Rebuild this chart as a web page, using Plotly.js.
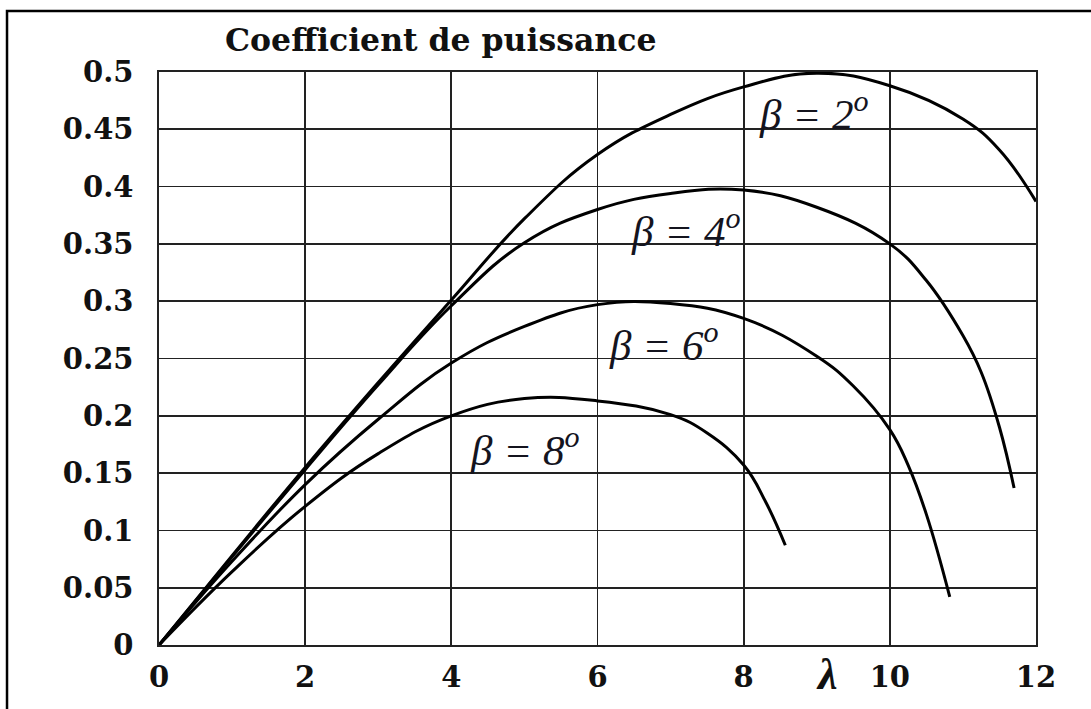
<!DOCTYPE html>
<html>
<head>
<meta charset="utf-8">
<script src="https://cdn.plot.ly/plotly-3.0.1.min.js"></script>
<style>
  html, body { margin: 0; padding: 0; background: #fff; }
  #chart { width: 1091px; height: 709px; }
</style>
</head>
<body>
<div id="chart"></div>
<script>
// Power coefficient Cp versus tip-speed ratio λ, one curve per pitch angle β
const lambdaB2 = [0, 1, 2, 3, 4, 5, 6, 7, 8, 9, 10, 11, 11.5, 12];
const cpB2     = [0, 0.078, 0.155, 0.229, 0.301, 0.372, 0.428, 0.463, 0.487, 0.499, 0.488, 0.459, 0.432, 0.387];

const lambdaB4 = [0, 1, 2, 3, 4, 5, 6, 7, 8, 9, 10, 10.5, 11, 11.25, 11.5, 11.7];
const cpB4     = [0, 0.077, 0.153, 0.227, 0.296, 0.351, 0.38, 0.394, 0.397, 0.382, 0.35, 0.318, 0.27, 0.238, 0.19, 0.137];

const lambdaB6 = [0, 1, 2, 3, 4, 5, 6, 7, 8, 9, 9.5, 10, 10.25, 10.5, 10.82];
const cpB6     = [0, 0.073, 0.14, 0.197, 0.246, 0.278, 0.297, 0.298, 0.285, 0.252, 0.226, 0.188, 0.157, 0.114, 0.042];

const lambdaB8 = [0, 1, 2, 3, 4, 5, 6, 7, 7.5, 8, 8.3, 8.57];
const cpB8     = [0, 0.064, 0.121, 0.167, 0.2, 0.215, 0.213, 0.201, 0.185, 0.157, 0.125, 0.087];

const pitchLabels = ['β = 2<sup>o</sup>', 'β = 4<sup>o</sup>', 'β = 6<sup>o</sup>', 'β = 8<sup>o</sup>'];

const curves = [
  [lambdaB2, cpB2],
  [lambdaB4, cpB4],
  [lambdaB6, cpB6],
  [lambdaB8, cpB8]
];

const traces = curves.map(([x, y], i) => ({
  x: x,
  y: y,
  type: 'scatter',
  mode: 'lines',
  name: pitchLabels[i],
  line: { color: '#000', width: 3, shape: 'spline', smoothing: 1.2, simplify: false },
  hoverinfo: 'skip'
}));

// label anchor points next to each curve (λ, Cp)
const labelPos = [[8.95, 0.466], [7.2, 0.364], [6.9, 0.264], [5.0, 0.173]];

const tickFont = { family: 'DejaVu Serif', size: 29, color: '#111', weight: 'bold' };

const annotations = pitchLabels.map((t, i) => ({
  x: labelPos[i][0], y: labelPos[i][1], xref: 'x', yref: 'y',
  text: '<i>' + t + '</i>',
  showarrow: false,
  xanchor: 'center', yanchor: 'middle',
  font: { family: 'Liberation Serif', size: 43, color: '#14141e' }
}));

annotations.push({
  x: 0.762, y: -0.052, xref: 'paper', yref: 'paper',
  text: '<b><i>λ</i></b>',
  showarrow: false,
  xanchor: 'center', yanchor: 'middle',
  font: { family: 'Liberation Serif', size: 44, color: '#111', weight: 'bold' }
});

const layout = {
  width: 1091,
  height: 709,
  margin: { l: 159, r: 55, t: 72, b: 64, pad: 0 },
  paper_bgcolor: '#fff',
  plot_bgcolor: '#fff',
  showlegend: false,
  title: {
    text: 'Coefficient de puissance',
    font: { family: 'DejaVu Serif', size: 31.5, color: '#111', weight: 'bold' },
    xref: 'container', yref: 'container',
    x: 0.404, y: 0.944, xanchor: 'center', yanchor: 'middle'
  },
  xaxis: {
    range: [0, 12],
    dtick: 2,
    tick0: 0,
    showgrid: true,
    gridcolor: '#222',
    gridwidth: 1.7,
    zeroline: false,
    showline: true,
    linecolor: '#222',
    linewidth: 1.7,
    mirror: true,
    ticks: '',
    ticklabelstandoff: 5,
    tickfont: tickFont,
    fixedrange: true
  },
  yaxis: {
    range: [0, 0.5],
    dtick: 0.05,
    tick0: 0,
    showgrid: true,
    gridcolor: '#222',
    gridwidth: 1.7,
    zeroline: false,
    showline: true,
    linecolor: '#222',
    linewidth: 1.7,
    mirror: true,
    ticks: '',
    ticklabelstandoff: 18,
    tickfont: tickFont,
    fixedrange: true
  },
  annotations: annotations,
  shapes: [{
    type: 'rect', xref: 'paper', yref: 'paper',
    x0: -0.1733, x1: 1.3, y0: -0.3, y1: 1.1065,
    line: { color: '#000', width: 2.5 },
    fillcolor: 'rgba(0,0,0,0)',
    layer: 'below'
  }]
};

Plotly.newPlot('chart', traces, layout, { displayModeBar: false, staticPlot: true });
</script>
</body>
</html>
